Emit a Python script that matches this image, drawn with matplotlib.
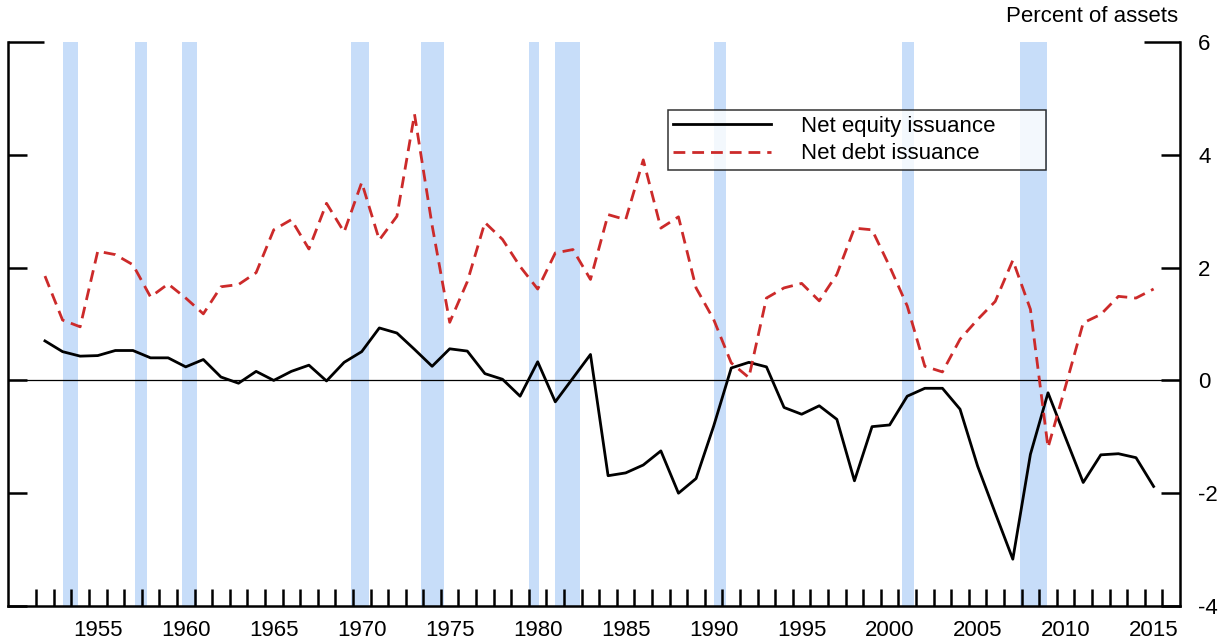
import matplotlib
matplotlib.use("Agg")
import matplotlib.pyplot as plt
import numpy as np

plt.rcParams['font.family'] = ['Liberation Sans', 'DejaVu Sans']
plt.rcParams['lines.scale_dashes'] = False

# annual data, 1952-2015 (percent of assets)
years = np.arange(1952, 2016)
equity = [0.70, 0.51, 0.43, 0.44, 0.53, 0.53, 0.40, 0.40, 0.24, 0.37,
          0.06, -0.05, 0.16, 0.00, 0.16, 0.27, -0.01, 0.32, 0.51, 0.93,
          0.84, 0.55, 0.25, 0.56, 0.52, 0.12, 0.02, -0.28, 0.33, -0.38,
          0.04, 0.46, -1.69, -1.64, -1.50, -1.25, -2.00, -1.74, -0.81, 0.22,
          0.32, 0.24, -0.48, -0.60, -0.45, -0.69, -1.78, -0.82, -0.79, -0.28,
          -0.14, -0.14, -0.51, -1.52, -2.35, -3.17, -1.31, -0.22, -1.02, -1.81,
          -1.32, -1.30, -1.37, -1.88]
debt = [1.85, 1.07, 0.95, 2.29, 2.23, 2.05, 1.48, 1.71, 1.46, 1.18,
        1.66, 1.70, 1.91, 2.67, 2.85, 2.33, 3.14, 2.63, 3.51, 2.49,
        2.91, 4.72, 2.75, 1.03, 1.75, 2.80, 2.50, 2.02, 1.62, 2.26,
        2.32, 1.79, 2.94, 2.85, 3.91, 2.70, 2.90, 1.64, 1.08, 0.31,
        0.05, 1.46, 1.64, 1.72, 1.41, 1.88, 2.70, 2.67, 2.02, 1.32,
        0.25, 0.15, 0.73, 1.08, 1.40, 2.13, 1.26, -1.19, -0.10, 1.02,
        1.17, 1.49, 1.46, 1.62]

# NBER recessions (peak, trough) as decimal years
rec_start = [1953.5, 1957.6, 1960.3, 1969.9, 1973.85, 1980.0, 1981.5, 1990.5, 2001.2, 2007.9]
rec_end = [1954.4, 1958.3, 1961.15, 1970.9, 1975.2, 1980.55, 1982.9, 1991.2, 2001.9, 2009.45]

label_years = np.arange(1955, 2016, 5)
yticks = [-4, -2, 0, 2, 4, 6]

fig = plt.figure(figsize=(12.25, 6.42), dpi=100)
ax = fig.add_axes([8 / 1225, 1 - 606 / 642, 1172 / 1225, 564 / 642])

for s, e in zip(rec_start, rec_end):
    ax.axvspan(s, e, color='#C7DDF9', lw=0, zorder=0)

ax.axhline(0, color='black', lw=0.9, zorder=1)

# annual values plotted at mid-year
x = years + 0.5
ax.plot(x, equity, color='black', lw=2.0, label='Net equity issuance', zorder=3)
ax.plot(x, debt, color='#CC2A2A', lw=2.0, dashes=(8.5, 5), label='Net debt issuance', zorder=3)

ax.set_xlim(1950.4, 2017.0)
ax.set_ylim(-4, 6)

ax.spines['top'].set_visible(False)
for side in ['left', 'right', 'bottom']:
    ax.spines[side].set_linewidth(1.8)

ax.set_xticks(label_years + 0.5)
ax.set_xticklabels([str(y) for y in label_years])
ax.set_xticks(np.arange(1952, 2017), minor=True)
ax.tick_params(axis='x', which='major', length=0, pad=10, labelsize=16)
ax.tick_params(axis='x', which='minor', direction='in', length=12, width=1.8)

ax.set_yticks(yticks)
ax.set_yticklabels([str(v) for v in yticks])
ax.tick_params(axis='y', which='major', direction='in', length=14, width=1.8,
               left=True, right=True, labelleft=False, labelright=True,
               pad=13, labelsize=16)
top_tick = ax.yaxis.get_major_ticks()[-1]
top_tick.tick1line.set_markersize(26)
top_tick.tick2line.set_markersize(26)

leg = ax.legend(loc='upper left', bbox_to_anchor=(0.563, 0.779, 0.323, 0.1),
                mode='expand', fontsize=16, frameon=True, fancybox=False,
                edgecolor='black', handlelength=4.4, handletextpad=1.35,
                labelspacing=0.3, borderpad=0.25, borderaxespad=0)
leg.get_frame().set_linewidth(1.1)

fig.text(1178 / 1225, 1 - 16 / 642, 'Percent of assets', ha='right', va='center', fontsize=16)

fig.savefig('out.png', dpi=100)
